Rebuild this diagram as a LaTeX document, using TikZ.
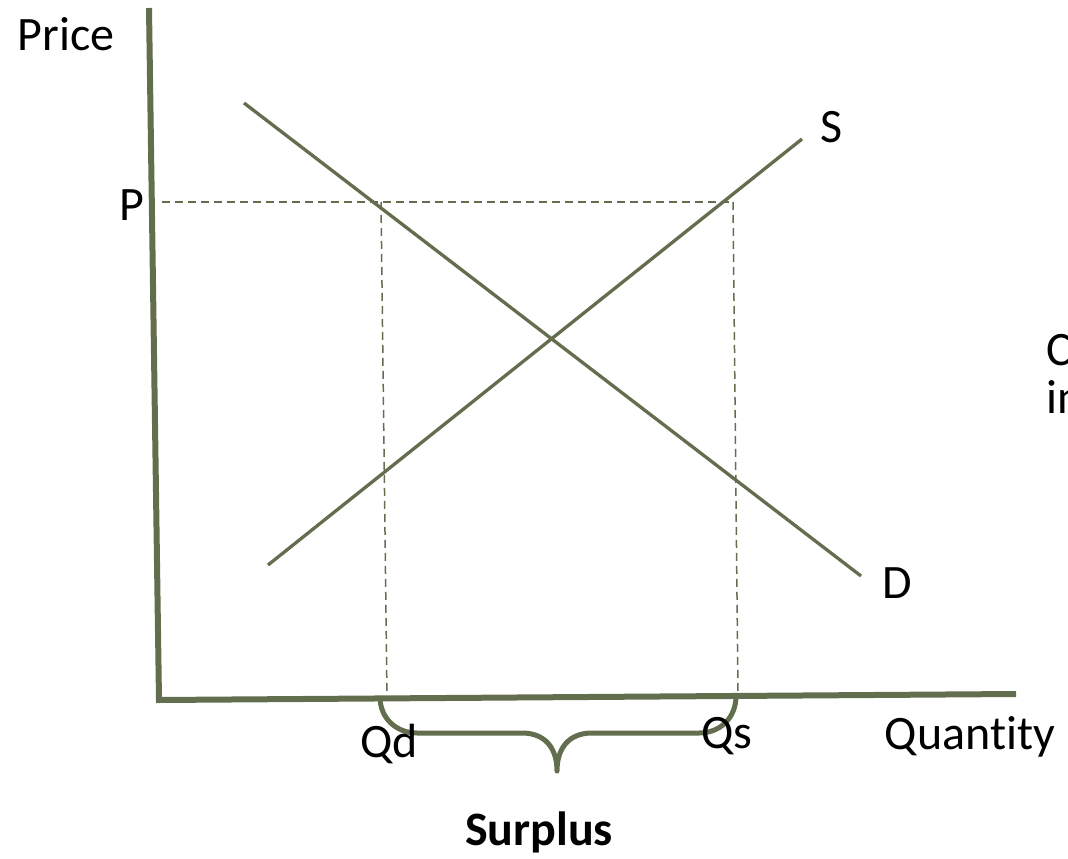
\documentclass[tikz,border=0pt]{standalone}
\usepackage{fontspec}
\setmainfont{Carlito}[Ligatures={NoCommon,NoContextual}]
\definecolor{olive}{RGB}{98,110,78}
\begin{document}
\begin{tikzpicture}[x=1pt,y=-1pt,
  axis/.style={draw=olive,line width=6pt},
  curve/.style={draw=olive,line width=3.3pt},
  guide/.style={draw=olive,line width=1.5pt,dash pattern=on 8pt off 5pt},
  brace/.style={draw=olive,line width=5pt},
  lbl/.style={font=\fontsize{48}{58}\selectfont,anchor=base,inner sep=0pt},
  blbl/.style={font=\fontsize{48}{58}\selectfont\bfseries,anchor=base,inner sep=0pt}]
\useasboundingbox (0,0) rectangle (1068,859);
% axes
\coordinate (ytop) at (149,8);
\coordinate (origin) at (159,700);
\coordinate (xend) at (1016,694);
\draw[axis] (ytop) -- (origin) -- (xend);
% curves
\coordinate (d1) at (244,103);
\coordinate (d2) at (861,576);
\coordinate (s1) at (268,565);
\coordinate (s2) at (802,139);
\draw[curve] (d1) -- (d2);
\draw[curve] (s1) -- (s2);
% guides
\coordinate (pL) at (162,202);
\coordinate (pD) at (381,202);
\coordinate (pS) at (733,202);
\coordinate (qd) at (387,697);
\coordinate (qs) at (738,695);
\draw[guide] (pL) -- (pS);
\draw[guide] (pD) -- (qd);
\draw[guide] (pS) -- (qs);
% brace
\coordinate (bl) at (380,697);
\coordinate (br) at (736,696);
\coordinate (tip) at (557,771);
\draw[brace,line join=round] (bl) .. controls (380,718) and (396,733) .. (417,733) -- (522,733)
  .. controls (545,733) and (557,748) .. (tip) .. controls (557,748) and (569,733) .. (592,733) -- (699,733)
  .. controls (720,733) and (736,718) .. (br);
% labels
\node[lbl] (price) at (66,51) {Price};
\node[lbl] (P) at (132,220) {P};
\node[lbl] (S) at (832,142) {S};
\node[lbl] (D) at (897,598) {D};
\node[lbl] (Qd) at (389,757) {Qd};
\node[lbl] (Qs) at (727,748) {Qs};
\node[lbl] (quantity) at (970,749) {Quant\kern0pt ity};
\node[blbl] (surplus) at (539,845) {Surplus};
\node[lbl,anchor=base west] (c) at (1046,365) {C};
\node[lbl,anchor=base west] (in) at (1046,413) {in};
\end{tikzpicture}
\end{document}
